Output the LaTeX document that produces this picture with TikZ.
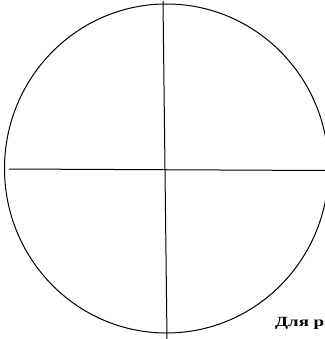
\documentclass[tikz,border=0pt]{standalone}
\usepackage{fontspec}
\setmainfont{Liberation Serif}
\newfontfamily\capfont[FakeStretch=1.35]{Liberation Serif}
\usetikzlibrary{shapes.geometric}
\begin{document}
\begin{tikzpicture}[x=1pt,y=-1pt,
  ring/.style={draw=black,line width=1pt,ellipse,inner sep=0pt,minimum width=324pt,minimum height=329pt},
  axis/.style={draw=black,line width=1pt},
  caption/.style={font=\capfont\fontsize{14}{16}\selectfont\bfseries,inner sep=0pt,anchor=base west}]
\useasboundingbox (0,0) rectangle (324,339);
\node[ring] (c) at (166.5,168.5) {};
\coordinate (vt) at (163,1);
\coordinate (vb) at (167,340);
\coordinate (hl) at (9,169);
\coordinate (hr) at (325,170.5);
\draw[axis] (vt) -- (vb);
\draw[axis] (hl) -- (hr);
\node[caption] (t) at (275,326.5) {Для р};
\end{tikzpicture}
\end{document}
